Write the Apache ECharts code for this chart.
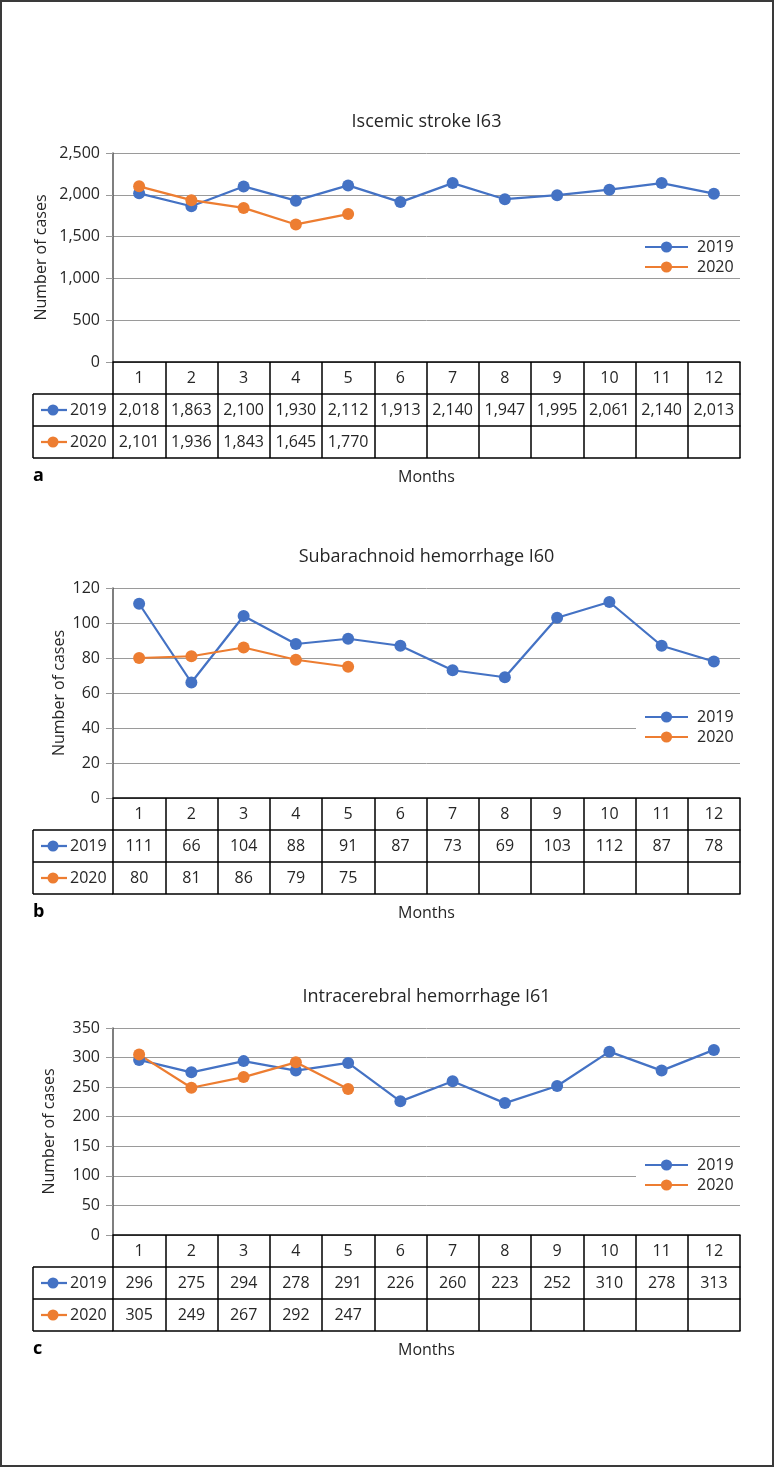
<!DOCTYPE html>
<html><head><meta charset="utf-8">
<script src="https://cdn.jsdelivr.net/npm/echarts@6/dist/echarts.min.js"></script>
<style>html,body{margin:0;padding:0;background:#fff}#c{width:779px;height:1468px}</style>
</head><body><div id="c"></div>
<script>
const months = ['1','2','3','4','5','6','7','8','9','10','11','12'];
const titles = ['Iscemic stroke I63', 'Subarachnoid hemorrhage I60', 'Intracerebral hemorrhage I61'];
const panelLetters = ['a', 'b', 'c'];
const xAxisTitle = 'Months';
const yAxisTitle = 'Number of cases';
const seriesNames = ['2019', '2020'];
const ischemic2019 = [2018, 1863, 2100, 1930, 2112, 1913, 2140, 1947, 1995, 2061, 2140, 2013];
const ischemic2020 = [2101, 1936, 1843, 1645, 1770];
const sah2019 = [111, 66, 104, 88, 91, 87, 73, 69, 103, 112, 87, 78];
const sah2020 = [80, 81, 86, 79, 75];
const ich2019 = [296, 275, 294, 278, 291, 226, 260, 223, 252, 310, 278, 313];
const ich2020 = [305, 249, 267, 292, 247];
const yMaxes = [2500, 120, 350];
const ySteps = [500, 20, 50];

const panelData = [[ischemic2019, ischemic2020], [sah2019, sah2020], [ich2019, ich2020]];
const colors = ['#4472C4', '#ED7D31'];
const FONT = '"Open Sans", "Noto Sans", sans-serif';
const TXT = '#262626';
const GRIDC = '#9a9a9a';

// layout
const plotLeft = 113, plotRight = 740, tableLeft = 33, rowH = 32;
const plotTop = [153, 588, 1028];
const plotBottom = [362, 798, 1235];
const nameGaps = [64, 46, 56];
const legendTops = [237, 707, 1155];

const fmt = v => (v === undefined || v === null) ? '' : v.toLocaleString('en-US');

const grids = [], xAxes = [], yAxes = [], series = [], legends = [], graphics = [];

graphics.push({type: 'rect', shape: {x: 1, y: 1, width: 772, height: 1465},
  style: {fill: 'none', stroke: '#3a3a3a', lineWidth: 2}, z: 100});

for (let p = 0; p < 3; p++) {
  grids.push({left: plotLeft, width: plotRight - plotLeft, top: plotTop[p], height: plotBottom[p] - plotTop[p]});
  const base = xAxes.length;
  xAxes.push({
    gridIndex: p, type: 'category', data: months, position: 'bottom', boundaryGap: true,
    axisLine: {show: true, lineStyle: {color: '#000', width: 1.5}},
    axisTick: {show: true, interval: 0, length: rowH * 3, lineStyle: {color: '#000', width: 1.5}},
    axisLabel: {interval: 0, margin: 16, verticalAlign: 'middle', fontSize: 16, color: TXT, fontFamily: FONT},
    splitLine: {show: false}
  });
  for (let r = 0; r < 2; r++) {
    const vals = panelData[p][r];
    xAxes.push({
      gridIndex: p, type: 'category', data: months, position: 'bottom', offset: rowH * (r + 1),
      axisLine: {show: true, lineStyle: {color: '#000', width: 1.5}},
      axisTick: {show: false},
      axisLabel: {interval: 0, margin: 16, verticalAlign: 'middle', fontSize: 16, color: TXT, fontFamily: FONT,
        formatter: (v, idx) => fmt(vals[idx])},
      splitLine: {show: false}
    });
  }
  xAxes.push({
    gridIndex: p, type: 'category', data: months, position: 'bottom', offset: rowH * 3,
    axisLine: {show: true, lineStyle: {color: '#000', width: 1.5}},
    axisTick: {show: false}, axisLabel: {show: false}, splitLine: {show: false}
  });
  yAxes.push({
    gridIndex: p, type: 'value', min: 0, max: yMaxes[p], interval: ySteps[p],
    name: yAxisTitle, nameLocation: 'middle', nameRotate: 90, nameGap: nameGaps[p], nameMoveOverlap: false,
    nameTextStyle: {fontSize: 16, color: TXT, fontFamily: FONT},
    axisLine: {show: true, lineStyle: {color: '#555', width: 1.5}},
    axisTick: {show: true, length: 7, lineStyle: {color: GRIDC, width: 1}},
    axisLabel: {margin: 13, fontSize: 16, color: TXT, fontFamily: FONT, formatter: v => fmt(v)},
    splitLine: {show: true, lineStyle: {color: GRIDC, width: 1}}
  });
  for (let r = 0; r < 2; r++) {
    series.push({
      name: seriesNames[r], type: 'line', xAxisIndex: base, yAxisIndex: p,
      data: panelData[p][r], symbol: 'circle', symbolSize: 12, showSymbol: true,
      lineStyle: {color: colors[r], width: 2.25}, itemStyle: {color: colors[r]},
      z: 5, animation: false
    });
  }
  legends.push({
    data: seriesNames, orient: 'vertical', left: 636, top: legendTops[p],
    itemGap: 0, itemWidth: 43, itemHeight: 14, padding: [0, 8, 0, 8],
    backgroundColor: p === 0 ? 'transparent' : '#fff', selectedMode: false,
    textStyle: {fontSize: 16, color: TXT, fontFamily: FONT, lineHeight: 20, padding: [0, 0, 0, 4]}
  });
  const cx = (plotLeft + plotRight) / 2;
  graphics.push({type: 'text', style: {text: titles[p], x: cx, y: plotTop[p] - 31, align: 'center', verticalAlign: 'middle',
    fontSize: 18, fontFamily: FONT, fill: TXT}});
  const below = plotBottom[p] + rowH * 3;
  graphics.push({type: 'text', style: {text: xAxisTitle, x: cx, y: below + 19, align: 'center', verticalAlign: 'middle',
    fontSize: 16, fontFamily: FONT, fill: TXT}});
  graphics.push({type: 'text', style: {text: panelLetters[p], x: 33, y: below + 18, align: 'left', verticalAlign: 'middle',
    fontSize: 18, fontWeight: 'bold', fontFamily: FONT, fill: '#000'}});
  // left column of table
  for (let k = 1; k <= 3; k++) {
    const y = plotBottom[p] + rowH * k;
    graphics.push({type: 'line', shape: {x1: tableLeft, y1: y, x2: plotLeft, y2: y}, style: {stroke: '#000', lineWidth: 1.5}});
  }
  graphics.push({type: 'line', shape: {x1: tableLeft, y1: plotBottom[p] + rowH, x2: tableLeft, y2: plotBottom[p] + rowH * 3},
    style: {stroke: '#000', lineWidth: 1.5}});
  for (let r = 0; r < 2; r++) {
    const yc = plotBottom[p] + rowH * (r + 1) + rowH / 2;
    graphics.push({type: 'line', shape: {x1: 41, y1: yc, x2: 67, y2: yc}, style: {stroke: colors[r], lineWidth: 2.25}});
    graphics.push({type: 'circle', shape: {cx: 53, cy: yc, r: 5.5}, style: {fill: colors[r]}});
    graphics.push({type: 'text', style: {text: seriesNames[r], x: 70, y: yc, align: 'left', verticalAlign: 'middle',
      fontSize: 16, fontFamily: FONT, fill: TXT}});
  }
}

const chart = echarts.init(document.getElementById('c'), null, {renderer: 'canvas'});
chart.setOption({
  animation: false,
  backgroundColor: '#fff',
  grid: grids, xAxis: xAxes, yAxis: yAxes, series: series, legend: legends,
  graphic: {elements: graphics}
});
</script></body></html>
